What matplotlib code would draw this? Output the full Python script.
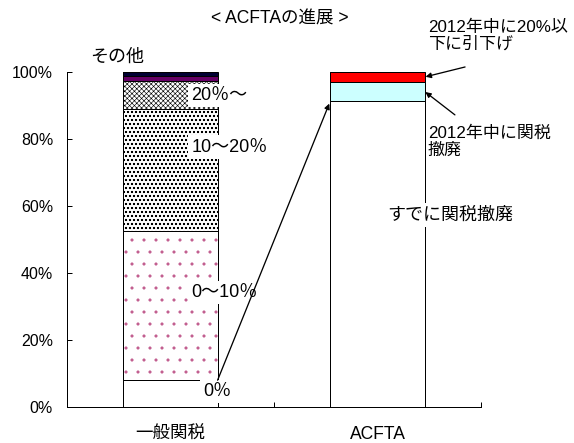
import matplotlib
matplotlib.use("Agg")
import matplotlib.pyplot as plt
from matplotlib.ticker import PercentFormatter
import numpy as np

plt.rcParams['font.family'] = ['Liberation Sans', 'Noto Sans CJK JP']
plt.rcParams['hatch.linewidth'] = 0.6

categories = ['一般関税', 'ACFTA']

# 一般関税: share of tariff lines by tariff-rate band (bottom to top)
general_bands = ['0％', '0～10％', '10～20％', '20％～', 'その他', 'その他']
general_shares = [0.080, 0.445, 0.364, 0.085, 0.014, 0.012]

# ACFTA: status of tariff lines (bottom to top)
acfta_status = ['すでに関税撤廃', '2012年中に関税撤廃', '2012年中に20%以下に引下げ']
acfta_shares = [0.914, 0.056, 0.030]

y_ticks = [0.0, 0.2, 0.4, 0.6, 0.8, 1.0]

# fill / hatch styles for each stacked segment
general_styles = [
    dict(face='white', hatch=None, hcolor='black'),
    dict(face='white', hatch='.', hcolor='#C05A8C'),
    dict(face='white', hatch='ooo', hcolor='black'),
    dict(face='white', hatch='xxxxx', hcolor='black'),
    dict(face='#660066', hatch=None, hcolor='black'),
    dict(face='#000033', hatch=None, hcolor='black'),
]
acfta_styles = [
    dict(face='white', hatch=None, hcolor='black'),
    dict(face='#CCFFFF', hatch=None, hcolor='black'),
    dict(face='#FF0000', hatch=None, hcolor='black'),
]

W, H, DPI = 574, 443, 72
fig = plt.figure(figsize=(W / DPI, H / DPI), dpi=DPI)
ax = fig.add_axes([67 / W, 36 / H, 414 / W, 335 / H])

bar_w = 0.455


def stack(ax, xpos, shares, styles):
    bottoms = np.concatenate([[0], np.cumsum(shares)[:-1]])
    for share, bottom, st in zip(shares, bottoms, styles):
        # fill + hatch layer
        ax.bar(xpos, share, bottom=bottom, width=bar_w, color=st['face'],
               edgecolor=st['hcolor'], hatch=st['hatch'], linewidth=0, zorder=2)
        # outline layer
        ax.bar(xpos, share, bottom=bottom, width=bar_w, fill=False,
               edgecolor='black', linewidth=1.0, zorder=3)
    return bottoms


g_bottoms = stack(ax, 0, general_shares, general_styles)
a_bottoms = stack(ax, 1, acfta_shares, acfta_styles)

ax.set_xlim(-0.5, 1.5)
ax.set_ylim(0, 1)
for s in ('top', 'right'):
    ax.spines[s].set_visible(False)
for s in ('left', 'bottom'):
    ax.spines[s].set_linewidth(1.0)

ax.set_yticks(y_ticks)
ax.yaxis.set_major_formatter(PercentFormatter(xmax=1, decimals=0))
ax.tick_params(axis='y', direction='in', length=5, width=1, labelsize=16, pad=14)

ax.set_xticks([-0.5, 0.5, 1.5])
ax.set_xticklabels([])
ax.tick_params(axis='x', which='major', direction='in', length=5, width=1)
ax.set_xticks([0, 1], minor=True)
ax.set_xticklabels(categories, minor=True)
ax.tick_params(axis='x', which='minor', length=0, labelsize=17.5, pad=19)

box = dict(facecolor='white', edgecolor='none', pad=3)
label_x = 0.10
txt_kw = dict(fontsize=18, va='center', ha='left', zorder=5)
note_kw = dict(fontsize=17, va='center', ha='left', zorder=5,
               linespacing=1.15, clip_on=False)

# band labels beside the first bar
ax.text(0.157, 0.045, general_bands[0], bbox=box, **txt_kw)
ax.text(label_x, 0.343, general_bands[1], bbox=box, **txt_kw)
ax.text(label_x, 0.776, general_bands[2], bbox=box, **txt_kw)
ax.text(label_x, 0.931, general_bands[3], bbox=box, **txt_kw)
ax.text(-0.389, 1.045, general_bands[4], clip_on=False, **txt_kw)

# status labels for the ACFTA bar
ax.text(1.046, 0.573, acfta_status[0], bbox=box, **txt_kw)
ax.text(1.244, 0.793, '2012年中に関税\n撤廃', **note_kw)
ax.text(1.244, 1.109, '2012年中に20%以\n下に引下げ', **note_kw)

arrow = dict(arrowstyle='-|>', color='black', lw=1.3, mutation_scale=11,
             shrinkA=0, shrinkB=1)
right_edge = 1 + bar_w / 2
ax.annotate('', xy=(right_edge, a_bottoms[2] + acfta_shares[2] / 2),
            xytext=(1.423, 1.015), arrowprops=arrow, annotation_clip=False, zorder=6)
ax.annotate('', xy=(right_edge, a_bottoms[1] + acfta_shares[1] / 2),
            xytext=(1.374, 0.872), arrowprops=arrow, annotation_clip=False, zorder=6)

# arrow from the duty-free share of the general tariff to the ACFTA bar
ax.annotate('', xy=(1 - bar_w / 2, acfta_shares[0]),
            xytext=(bar_w / 2, general_shares[0]),
            arrowprops=dict(arrowstyle='-|>', color='black', lw=1.3,
                            mutation_scale=11, shrinkA=0, shrinkB=3),
            zorder=6)

fig.text(280 / W, 1 - 19 / H, '< ACFTAの進展 >', fontsize=17.5,
         ha='center', va='center')

fig.savefig('out.png', dpi=DPI)
